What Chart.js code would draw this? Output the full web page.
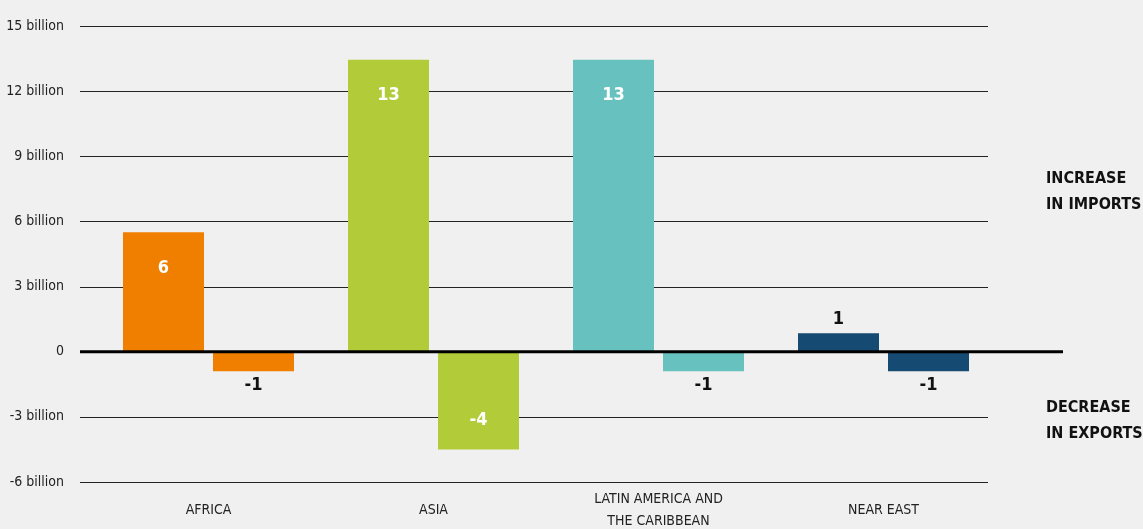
<!DOCTYPE html>
<html>
<head>
<meta charset="utf-8">
<script src="https://cdn.jsdelivr.net/npm/chart.js@4/dist/chart.umd.min.js"></script>
<style>
  html, body { margin: 0; padding: 0; background: #f0f0f0; }
  #wrap { width: 1143px; height: 529px; }
</style>
</head>
<body>
<div id="wrap"><canvas id="myChart" width="1143" height="529"></canvas></div>
<script>
// values in billions (USD)
const categories = ["AFRICA", "ASIA", ["LATIN AMERICA AND", "THE CARIBBEAN"], "NEAR EAST"];
const importValues = [5.5, 13.45, 13.45, 0.85];
const exportValues = [-0.9, -4.5, -0.9, -0.9];
const importLabels = ["6", "13", "13", "1"];
const exportLabels = ["-1", "-4", "-1", "-1"];
const regionColors = ["#f07f00", "#b1cb39", "#67c2bf", "#154a72"];
const yMin = -6;
const yMax = 15;
const yStep = 3;

const FONT = "'Liberation Sans Narrow', 'DejaVu Sans Condensed', 'Roboto', sans-serif";

const gridPlugin = {
  id: "customGrid",
  beforeDatasetsDraw: (chart) => {
    const c = chart.ctx;
    const area = chart.chartArea;
    const y = chart.scales.y;
    c.save();
    c.strokeStyle = "#222";
    c.lineWidth = 1;
    y.ticks.forEach((t) => {
      if (t.value === 0) return;
      const py = Math.round(y.getPixelForValue(t.value)) + 0.5;
      c.beginPath();
      c.moveTo(area.left - 16, py);
      c.lineTo(area.right - 8, py);
      c.stroke();
    });
    c.restore();
  },
  afterDatasetsDraw: (chart) => {
    const c = chart.ctx;
    const area = chart.chartArea;
    const y = chart.scales.y;
    const py = y.getPixelForValue(0);
    c.save();
    c.strokeStyle = "#000";
    c.lineWidth = 3;
    c.beginPath();
    c.moveTo(area.left - 16, py);
    c.lineTo(area.right + 67, py);
    c.stroke();

    // value labels
    c.font = "bold 18px " + FONT;
    c.textAlign = "center";
    c.textBaseline = "middle";
    const imp = chart.getDatasetMeta(0).data;
    imp.forEach((bar, i) => {
      if (importValues[i] > 3) {
        c.fillStyle = "#fff";
        c.fillText(importLabels[i], bar.x, bar.y + 36);
      } else {
        c.fillStyle = "#111";
        c.fillText(importLabels[i], bar.x, bar.y - 14);
      }
    });
    const exp = chart.getDatasetMeta(1).data;
    exp.forEach((bar, i) => {
      if (exportValues[i] < -3) {
        c.fillStyle = "#fff";
        c.fillText(exportLabels[i], bar.x, bar.y - 29);
      } else {
        c.fillStyle = "#111";
        c.fillText(exportLabels[i], bar.x, bar.y + 14);
      }
    });
    c.restore();
  },
  afterDraw: (chart) => {
    const c = chart.ctx;
    c.save();
    c.font = "bold 16px " + FONT;
    c.fillStyle = "#111";
    c.textAlign = "left";
    c.textBaseline = "middle";
    c.fillText("INCREASE", 1046, 179);
    c.fillText("IN IMPORTS", 1046, 205);
    c.fillText("DECREASE", 1046, 408);
    c.fillText("IN EXPORTS", 1046, 434);
    c.restore();
  },
};

const ctx = document.getElementById("myChart").getContext("2d");
const myChart = new Chart(ctx, {
  type: "bar",
  data: {
    labels: categories,
    datasets: [
      {
        label: "Increase in imports",
        data: importValues,
        backgroundColor: regionColors,
        categoryPercentage: 0.8,
        barPercentage: 0.9,
      },
      {
        label: "Decrease in exports",
        data: exportValues,
        backgroundColor: regionColors,
        categoryPercentage: 0.8,
        barPercentage: 0.9,
      },
    ],
  },
  options: {
    responsive: false,
    animation: false,
    devicePixelRatio: 1,
    layout: {
      padding: { top: 26, right: 147, left: 0, bottom: 0 },
    },
    plugins: {
      legend: { display: false },
      tooltip: { enabled: false },
    },
    scales: {
      x: {
        grid: { display: false, drawTicks: false },
        border: { display: false },
        ticks: {
          color: "#222",
          font: { family: FONT, size: 14, lineHeight: 1.6 },
          padding: 17,
          crossAlign: "center",
          maxRotation: 0,
          autoSkip: false,
        },
        afterFit: (scale) => {
          scale.height = 47;
          scale.paddingLeft = 0;
          scale.paddingRight = 0;
        },
      },
      y: {
        min: yMin,
        max: yMax,
        grid: { display: false, drawTicks: false },
        border: { display: false },
        ticks: {
          stepSize: yStep,
          color: "#222",
          font: { family: FONT, size: 14 },
          padding: 32,
          callback: (value) => (value === 0 ? "0" : value + " billion"),
        },
        afterFit: (scale) => {
          scale.width = 96;
          scale.paddingTop = 0;
          scale.paddingBottom = 0;
        },
      },
    },
  },
  plugins: [gridPlugin],
});
</script>
</body>
</html>
